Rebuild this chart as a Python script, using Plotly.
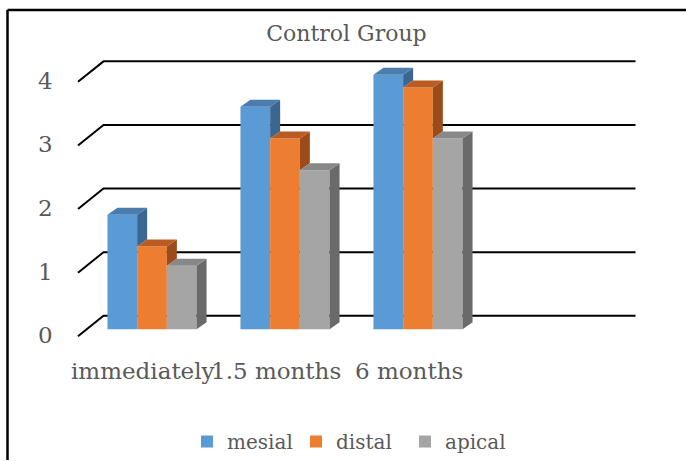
import plotly.graph_objects as go

# ---------------- data ----------------
categories = ["immediately", "1.5 months", "6 months"]
series_names = ["mesial", "distal", "apical"]
mesial = [1.8, 3.5, 4.0]
distal = [1.3, 3.0, 3.8]
apical = [1.0, 2.5, 3.0]
y_ticks = [0, 1, 2, 3, 4]
title_text = "Control Group"

# ---------------- style ----------------
front_colors = ["#5B9BD5", "#ED7D31", "#A5A5A5"]
top_colors = ["#4A7DAE", "#BA5C22", "#888888"]
side_colors = ["#3B6690", "#9C4C1A", "#6A6A6A"]
FONT = "DejaVu Serif"
TXT = "#595959"

W, H = 686, 461
PX_CAT = 133.0      # pixels per category
CAT0_PX = 152.0     # pixel x of first category centre (front plane)
PX_UNIT = 63.75     # pixels per value unit
BASE_PX = 330.0     # pixel y of value 0 (front plane)
N_SLOTS = 4         # category slots on the back wall

def dxu(px):
    return px / PX_CAT

def dyu(px):
    return px / PX_UNIT

x_range = [(0 - CAT0_PX) / PX_CAT, (W - CAT0_PX) / PX_CAT]
y_range = [(BASE_PX - H) / PX_UNIT, BASE_PX / PX_UNIT]

GROUP_W = 0.67
BAR_W = GROUP_W / 3
BAR_DX, BAR_DY = dxu(10), dyu(7)
WALL_DX, WALL_DY = dxu(18), dyu(13.5)
FLOOR_DX, FLOOR_DY = dxu(-7.5), dyu(-7)

values = [mesial, distal, apical]

fig = go.Figure()

# front faces
for k, (name, vals) in enumerate(zip(series_names, values)):
    fig.add_trace(go.Bar(
        x=list(range(len(categories))), y=vals, name=name,
        marker=dict(color=front_colors[k], line=dict(width=0)),
        hoverinfo="skip",
    ))

# top and side faces (pseudo-3D)
for i in range(len(categories)):
    for k in range(len(values)):
        v = values[k][i]
        l = i - GROUP_W / 2 + k * BAR_W
        r = l + BAR_W
        nxt = values[k + 1][i] if k + 1 < len(values) else 0.0
        if k + 1 == len(values) or nxt < v:
            lower = nxt if k + 1 < len(values) else 0.0
            fig.add_trace(go.Scatter(
                x=[r, r, r + BAR_DX, r + BAR_DX, r],
                y=[lower, v, v + BAR_DY, lower + BAR_DY, lower],
                fill="toself", fillcolor=side_colors[k], mode="none",
                showlegend=False, hoverinfo="skip"))
        fig.add_trace(go.Scatter(
            x=[l, r, r + BAR_DX, l + BAR_DX, l],
            y=[v, v, v + BAR_DY, v + BAR_DY, v],
            fill="toself", fillcolor=top_colors[k], mode="none",
            showlegend=False, hoverinfo="skip"))

shapes = []
annotations = []
x_front = -0.5 + FLOOR_DX
x_wall_l = -0.5 + WALL_DX
x_wall_r = N_SLOTS - 0.5 + WALL_DX
for t in y_ticks:
    shapes.append(dict(
        type="path", layer="below", xref="x", yref="y",
        path=f"M{x_front},{t + FLOOR_DY} L{x_wall_l},{t + WALL_DY} L{x_wall_r},{t + WALL_DY}",
        line=dict(color="black", width=2)))
    annotations.append(dict(
        x=x_front, y=t + FLOOR_DY, xref="x", yref="y", text=str(t),
        showarrow=False, xanchor="right", yanchor="middle", xshift=-23, yshift=1,
        font=dict(family=FONT, size=23, color=TXT)))

for i, c in enumerate(categories):
    annotations.append(dict(
        x=i, y=0, xref="x", yref="y", text=c, showarrow=False,
        xanchor="center", yanchor="middle", xshift=-9, yshift=-42,
        font=dict(family=FONT, size=23, color=TXT)))

# outer frame (left and top edges visible)
shapes.append(dict(type="line", xref="paper", yref="paper",
                   x0=7.5 / W, x1=7.5 / W, y0=0, y1=1 - 10 / H,
                   line=dict(color="black", width=2.5)))
shapes.append(dict(type="line", xref="paper", yref="paper",
                   x0=7.5 / W, x1=1, y0=1 - 10 / H, y1=1 - 10 / H,
                   line=dict(color="black", width=2.5)))

fig.update_layout(
    width=W, height=H,
    margin=dict(l=0, r=0, t=0, b=0),
    paper_bgcolor="white", plot_bgcolor="white",
    barmode="group", bargap=0.33, bargroupgap=0,
    title=dict(text=title_text, x=0.505, xanchor="center",
               y=1 - 33 / H, yanchor="middle",
               font=dict(family=FONT, size=22, color=TXT)),
    xaxis=dict(range=x_range, visible=False, fixedrange=True),
    yaxis=dict(range=y_range, visible=False, fixedrange=True),
    legend=dict(orientation="h", x=187 / W, xanchor="left",
                y=1 - 442 / H, yanchor="middle",
                font=dict(family=FONT, size=20, color=TXT),
                entrywidth=64, bgcolor="rgba(0,0,0,0)"),
    shapes=shapes, annotations=annotations,
    showlegend=True,
)
for tr in fig.data:
    if tr.type == "scatter":
        tr.showlegend = False

fig.write_html("out.html")
